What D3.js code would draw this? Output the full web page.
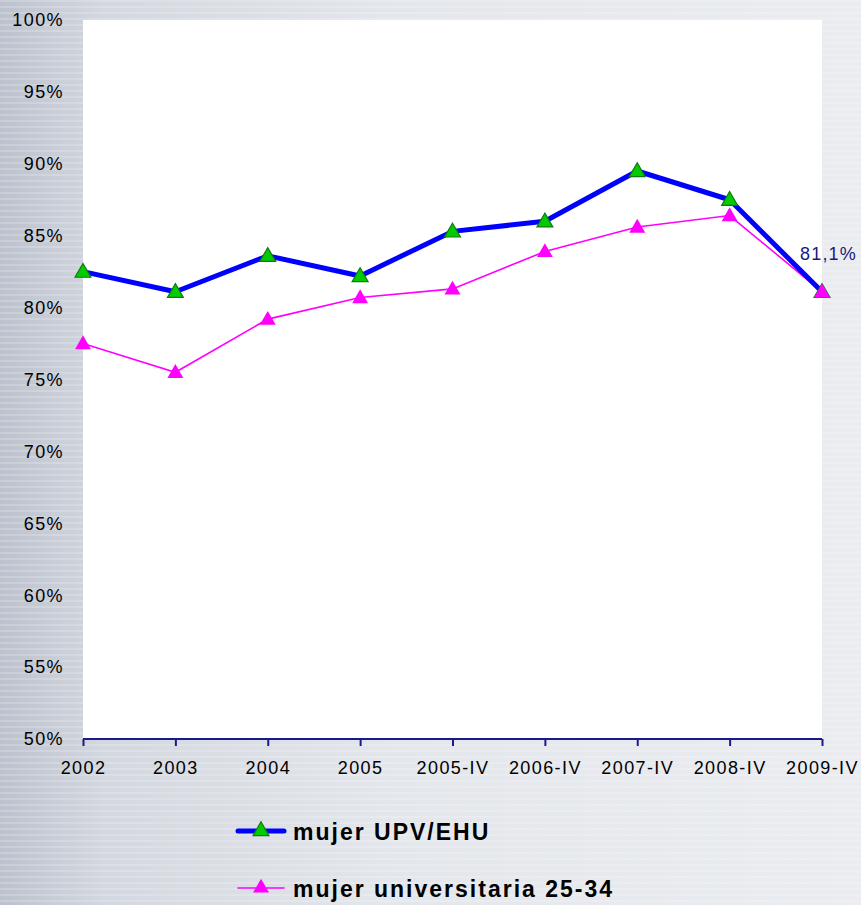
<!DOCTYPE html>
<html>
<head>
<meta charset="utf-8">
<script src="https://cdn.jsdelivr.net/npm/d3@7"></script>
<style>
  html, body { margin: 0; padding: 0; }
  body { width: 861px; height: 905px; overflow: hidden; }
  svg { display: block; font-family: "Liberation Sans", Arial, sans-serif; }
</style>
</head>
<body>
<svg id="chart" width="861" height="905"></svg>
<script>
const categories = ["2002", "2003", "2004", "2005", "2005-IV", "2006-IV", "2007-IV", "2008-IV", "2009-IV"];
const upvEhu = [82.5, 81.1, 83.6, 82.2, 85.3, 86.0, 89.5, 87.5, 81.1];
const universitaria = [77.5, 75.5, 79.2, 80.7, 81.3, 83.9, 85.6, 86.4, 81.1];
const yTicks = [50, 55, 60, 65, 70, 75, 80, 85, 90, 95, 100];
const seriesNames = ["mujer UPV/EHU", "mujer universitaria 25-34"];

const svg = d3.select("#chart");
const W = 861, H = 905;
const plot = { left: 83, right: 822, top: 20, bottom: 739 };

// background: grey photo-like gradient
const defs = svg.append("defs");
const bg = defs.append("linearGradient").attr("id", "bg").attr("x1", 0).attr("x2", 1).attr("y1", 0).attr("y2", 0);
bg.append("stop").attr("offset", "0%").attr("stop-color", "#bcc2cd");
bg.append("stop").attr("offset", "12%").attr("stop-color", "#d3d7df");
bg.append("stop").attr("offset", "45%").attr("stop-color", "#e3e6eb");
bg.append("stop").attr("offset", "100%").attr("stop-color", "#eaecf0");
const stripes = defs.append("pattern").attr("id", "stripes")
  .attr("width", 10).attr("height", 6).attr("patternUnits", "userSpaceOnUse");
stripes.append("rect").attr("width", 10).attr("height", 2).attr("fill", "#ffffff").attr("opacity", 0.18);

svg.append("rect").attr("width", W).attr("height", H).attr("fill", "url(#bg)");
svg.append("rect").attr("width", W).attr("height", H).attr("fill", "url(#stripes)");

// white plot area
svg.append("rect")
  .attr("x", plot.left).attr("y", plot.top)
  .attr("width", plot.right - plot.left).attr("height", plot.bottom - plot.top)
  .attr("fill", "#ffffff");

const x = d3.scalePoint().domain(categories).range([plot.left, plot.right]).padding(0);
const y = d3.scaleLinear().domain([50, 100]).range([plot.bottom, plot.top]);

// y labels (no axis line)
svg.append("g").selectAll("text")
  .data(yTicks)
  .join("text")
  .attr("x", 64)
  .attr("y", d => y(d))
  .attr("dy", "0.35em")
  .attr("text-anchor", "end")
  .attr("font-size", 18)
  .attr("letter-spacing", 1.4)
  .attr("fill", "#000")
  .text(d => d + "%");

// x axis
const xAxis = svg.append("g")
  .attr("transform", `translate(0,${plot.bottom})`)
  .call(d3.axisBottom(x).tickSize(7).tickSizeOuter(0).tickPadding(15));
xAxis.select(".domain").attr("stroke", "#1a1a8c").attr("stroke-width", 2)
  .attr("d", `M${plot.left},0H${plot.right}`);
xAxis.selectAll(".tick line").attr("stroke", "#1a1a8c").attr("stroke-width", 2);
xAxis.selectAll(".tick text")
  .attr("font-size", 18)
  .attr("letter-spacing", 1.4)
  .attr("font-family", "Liberation Sans, Arial, sans-serif")
  .attr("fill", "#000");

const line = d3.line()
  .x((d, i) => x(categories[i]))
  .y(d => y(d));

const tri = d3.symbol().type(d3.symbolTriangle).size(110);

// pink series
svg.append("path")
  .datum(universitaria)
  .attr("fill", "none")
  .attr("stroke", "#ff00ff")
  .attr("stroke-width", 1.6)
  .attr("d", line);

// blue series
svg.append("path")
  .datum(upvEhu)
  .attr("fill", "none")
  .attr("stroke", "#0000ff")
  .attr("stroke-width", 5)
  .attr("stroke-linejoin", "round")
  .attr("d", line);

svg.append("g").selectAll("path")
  .data(upvEhu)
  .join("path")
  .attr("transform", (d, i) => `translate(${x(categories[i])},${y(d) + 1})`)
  .attr("d", tri)
  .attr("fill", "#00cc00")
  .attr("stroke", "#127a12")
  .attr("stroke-width", 1.2);

svg.append("g").selectAll("path")
  .data(universitaria)
  .join("path")
  .attr("transform", (d, i) => `translate(${x(categories[i])},${y(d) + 1})`)
  .attr("d", tri)
  .attr("fill", "#ff00ff");

// data label for last point
const last = upvEhu.length - 1;
svg.append("text")
  .attr("x", x(categories[last]) - 22)
  .attr("y", y(upvEhu[last]) - 32)
  .attr("font-size", 18)
  .attr("letter-spacing", 1.2)
  .attr("fill", "#1a1a80")
  .text(upvEhu[last].toFixed(1).replace(".", ",") + "%");

// legend
const legend = svg.append("g");
const legendRows = [
  { name: seriesNames[0], color: "#0000ff", width: 5, fill: "#00cc00", stroke: "#127a12", y: 831 },
  { name: seriesNames[1], color: "#ff00ff", width: 1.6, fill: "#ff00ff", stroke: "none", y: 888 }
];
legendRows.forEach(r => {
  legend.append("line")
    .attr("x1", 238).attr("x2", 284)
    .attr("y1", r.y).attr("y2", r.y)
    .attr("stroke", r.color).attr("stroke-width", r.width)
    .attr("stroke-linecap", "round");
  legend.append("path")
    .attr("transform", `translate(261,${r.y})`)
    .attr("d", tri)
    .attr("fill", r.fill)
    .attr("stroke", r.stroke)
    .attr("stroke-width", 1.2);
  legend.append("text")
    .attr("x", 293)
    .attr("y", r.y + 9)
    .attr("font-size", 23)
    .attr("font-weight", "bold")
    .attr("letter-spacing", 2)
    .attr("fill", "#000")
    .text(r.name);
});
</script>
</body>
</html>
